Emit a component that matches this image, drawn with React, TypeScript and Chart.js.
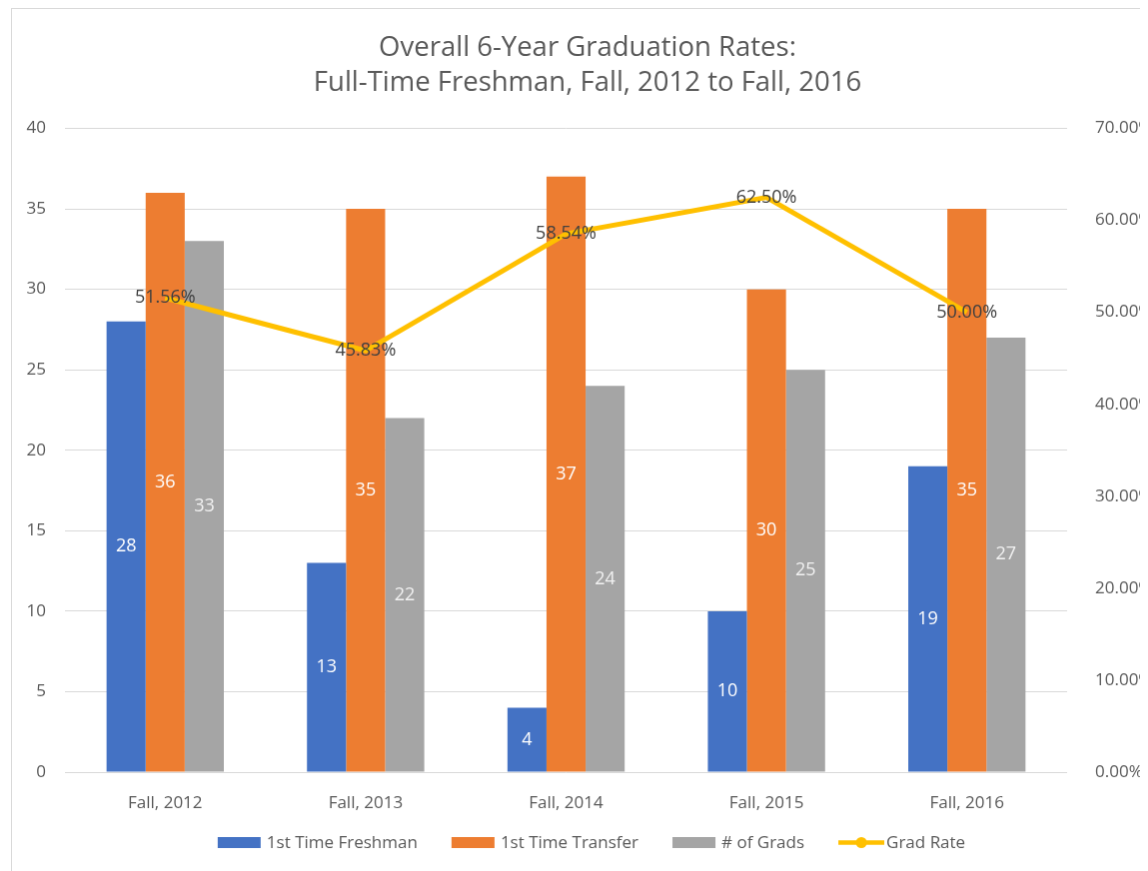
import React, { useEffect, useRef } from 'react';
import { Chart, registerables } from 'chart.js';

Chart.register(...registerables);

const titleLines = ['Overall 6-Year Graduation Rates:', 'Full-Time Freshman, Fall, 2012 to Fall, 2016'];
const categories = ['Fall, 2012', 'Fall, 2013', 'Fall, 2014', 'Fall, 2015', 'Fall, 2016'];
const freshman = [28, 13, 4, 10, 19];
const transfer = [36, 35, 37, 30, 35];
const grads = [33, 22, 24, 25, 27];
const gradRate = [51.56, 45.83, 58.54, 62.5, 50.0];
const leftAxis = { min: 0, max: 40, step: 5 };
const rightAxis = { min: 0, max: 70, step: 10 };

const FONT = '"Open Sans", "Noto Sans", sans-serif';
const TEXT = '#595959';
const COLORS = { freshman: '#4472C4', transfer: '#ED7D31', grads: '#A5A5A5', rate: '#FFC000' };

const W = 1152;
const H = 870;

const labelPlugin = {
  id: 'valueLabels',
  afterDatasetsDraw(chart: any) {
    const ctx = chart.ctx;
    ctx.save();
    ctx.font = `18px ${FONT}`;
    ctx.textAlign = 'center';
    ctx.textBaseline = 'middle';
    chart.data.datasets.forEach((ds: any, i: number) => {
      const meta = chart.getDatasetMeta(i);
      if (meta.type !== 'bar') return;
      meta.data.forEach((el: any, j: number) => {
        ctx.fillStyle = i === 2 ? '#F2F2F2' : '#FFFFFF';
        ctx.fillText(String(ds.data[j]), el.x, (el.y + el.base) / 2);
      });
    });
    chart.data.datasets.forEach((ds: any, i: number) => {
      const meta = chart.getDatasetMeta(i);
      if (meta.type !== 'line') return;
      meta.data.forEach((el: any, j: number) => {
        ctx.fillStyle = '#404040';
        ctx.fillText(Number(ds.data[j]).toFixed(2) + '%', el.x, el.y);
      });
    });
    ctx.restore();
  },
};

const legendPlugin = {
  id: 'customLegend',
  afterDraw(chart: any) {
    const ctx = chart.ctx;
    ctx.save();
    ctx.font = `17px ${FONT}`;
    ctx.textBaseline = 'middle';
    ctx.textAlign = 'left';
    const items = chart.data.datasets.map((ds: any) => ({
      label: ds.label,
      color: ds.type === 'line' ? ds.borderColor : ds.backgroundColor,
      line: ds.type === 'line',
    }));
    const gap = 34;
    const widths = items.map((it: any) => (it.line ? 48 : 49) + ctx.measureText(it.label).width);
    const total = widths.reduce((a: number, b: number) => a + b, 0) + gap * (items.length - 1);
    let x = chart.width / 2 + 4 - total / 2;
    const y = 834.5;
    items.forEach((it: any, k: number) => {
      if (it.line) {
        ctx.strokeStyle = it.color;
        ctx.lineWidth = 4.5;
        ctx.beginPath();
        ctx.moveTo(x, y);
        ctx.lineTo(x + 46, y);
        ctx.stroke();
        ctx.fillStyle = it.color;
        ctx.beginPath();
        ctx.arc(x + 23, y, 5.5, 0, Math.PI * 2);
        ctx.fill();
        ctx.fillStyle = TEXT;
        ctx.fillText(it.label, x + 48, y + 1);
      } else {
        ctx.fillStyle = it.color;
        ctx.fillRect(x, y - 5.5, 43, 11);
        ctx.fillStyle = TEXT;
        ctx.fillText(it.label, x + 49, y + 1);
      }
      x += widths[k] + gap;
    });
    ctx.restore();
  },
};

export default function App() {
  const ref = useRef<HTMLCanvasElement>(null);
  useEffect(() => {
    document.documentElement.style.overflow = 'hidden';
    document.body.style.overflow = 'hidden';
    const canvas = ref.current;
    if (!canvas) return;
    const chart = new Chart(canvas, {
      type: 'bar',
      data: {
        labels: categories,
        datasets: [
          { type: 'bar', label: '1st Time Freshman', data: freshman, backgroundColor: COLORS.freshman, yAxisID: 'y', order: 1 },
          { type: 'bar', label: '1st Time Transfer', data: transfer, backgroundColor: COLORS.transfer, yAxisID: 'y', order: 1 },
          { type: 'bar', label: '# of Grads', data: grads, backgroundColor: COLORS.grads, yAxisID: 'y', order: 1 },
          {
            type: 'line',
            label: 'Grad Rate',
            data: gradRate,
            borderColor: COLORS.rate,
            backgroundColor: COLORS.rate,
            borderWidth: 5,
            pointRadius: 0,
            tension: 0,
            yAxisID: 'y1',
            order: 0,
          },
        ] as any,
      },
      options: {
        responsive: false,
        animation: false,
        layout: { padding: { left: 0, right: 0, top: 0, bottom: 0 } },
        datasets: { bar: { barPercentage: 1, categoryPercentage: 0.585 } } as any,
        plugins: {
          legend: { display: false },
          tooltip: { enabled: false },
          title: {
            display: true,
            text: titleLines,
            color: TEXT,
            font: { family: FONT, size: 27.5, weight: 'normal', lineHeight: 1.3 },
            padding: { top: 21, bottom: 27 },
          },
        },
        scales: {
          x: {
            grid: { display: false },
            border: { display: false },
            ticks: { color: TEXT, font: { family: FONT, size: 17 }, padding: 13 },
            afterFit: (s: any) => { s.height = 106; },
          },
          y: {
            position: 'left',
            min: leftAxis.min,
            max: leftAxis.max,
            grid: { color: '#D9D9D9', lineWidth: 1, drawTicks: false },
            border: { display: false },
            ticks: { stepSize: leftAxis.step, color: TEXT, font: { family: FONT, size: 17 }, padding: 19 },
            afterFit: (s: any) => { s.width = 53; },
          },
          y1: {
            position: 'right',
            min: rightAxis.min,
            max: rightAxis.max,
            grid: { display: false, drawTicks: false },
            border: { display: false },
            ticks: {
              stepSize: rightAxis.step,
              color: TEXT,
              font: { family: FONT, size: 17 },
              padding: 28,
              callback: (v: any) => Number(v).toFixed(2) + '%',
            },
            afterFit: (s: any) => { s.width = 96; },
          },
        },
      } as any,
      plugins: [labelPlugin, legendPlugin],
    });
    return () => chart.destroy();
  }, []);
  return (
    <canvas
      ref={ref}
      width={W}
      height={H}
      style={{
        display: 'block',
        marginLeft: 3,
        borderLeft: '1px solid #D9D9D9',
        borderTop: '1px solid #D9D9D9',
        width: W,
        height: H,
      }}
    />
  );
}
